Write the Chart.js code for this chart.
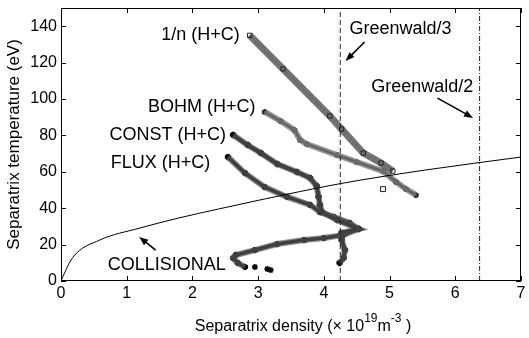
<!DOCTYPE html>
<html>
<head>
<meta charset="utf-8">
<script src="https://cdn.jsdelivr.net/npm/chart.js@4"></script>
<style>
  body { margin: 0; background: #fff; }
</style>
</head>
<body>
<canvas id="tsepChart" width="529" height="338"></canvas>
<script>
const xTicks = [0, 1, 2, 3, 4, 5, 6, 7];
const yTicks = [0, 20, 40, 60, 80, 100, 120, 140];

// 1/n (H+C) scan
const invNDensity = [2.87, 3.38, 4.09, 4.27, 4.60, 4.87, 5.05];
const invNTemp    = [135, 116.5, 90.7, 83.5, 70.3, 64.8, 60.4];
const invNStrayDensity = [4.90];
const invNStrayTemp    = [50.5];

// BOHM (H+C) scan
const bohmDensity = [3.10, 3.34, 3.55, 3.64, 3.74, 4.20, 4.50, 4.90, 5.10, 5.25, 5.40];
const bohmTemp    = [92.9, 87.9, 83.0, 77.5, 75.3, 69.2, 65.4, 60.4, 54.4, 50.5, 47.3];

// CONST (H+C) scan
const constDensity = [2.62, 2.84, 3.04, 3.29, 3.59, 3.79, 3.89, 3.92, 3.94, 3.97, 4.20, 4.53, 4.27, 4.27, 4.32, 4.30, 4.24];
const constTemp    = [80.2, 74.7, 70.3, 64.3, 59.9, 56.6, 52.2, 46.2, 41.8, 37.9, 33.5, 28.6, 26.4, 22.5, 17.0, 12.6, 9.9];

// FLUX (H+C) scan
const fluxDensity = [2.54, 2.80, 3.10, 3.44, 3.79, 3.94, 4.15, 4.39, 4.53, 4.30, 4.00, 3.70, 3.29, 2.95, 2.66, 2.62, 2.69, 2.80];
const fluxTemp    = [68.1, 59.3, 51.6, 46.2, 41.8, 37.9, 35.2, 31.9, 28.6, 25.3, 23.6, 22.5, 20.3, 17.0, 14.3, 12.6, 9.9, 7.7];
const fluxTailDensity = [2.95, 3.14, 3.19];
const fluxTailTemp    = [7.7, 6.6, 6.0];

// two-point (collisional) model curve
const collDensity = [0, 0.03, 0.18, 0.59, 1.19, 1.79, 2.39, 3.0, 4.25, 5.55, 7.0];
const collTemp    = [0, 2.5, 13.0, 22.5, 29.0, 34.6, 39.5, 44.3, 53.5, 61.0, 68.1];

// Greenwald density fractions
const greenwald3 = 4.25;
const greenwald2 = 6.37;

const yMax = 150;
const FONT = '"Liberation Sans", Arial, Helvetica, sans-serif';

function pts(xs, ys) {
    return xs.map((x, i) => ({ x: x, y: ys[i] }));
}

const labels = [
    { text: '1/n (H+C)',   x: 2.72, y: 135.2, align: 'right' },
    { text: 'BOHM (H+C)',  x: 2.96, y: 95.6,  align: 'right' },
    { text: 'CONST (H+C)', x: 2.51, y: 80.2,  align: 'right' },
    { text: 'FLUX (H+C)',  x: 2.27, y: 64.8,  align: 'right' },
    { text: 'COLLISIONAL', x: 0.71, y: 8.8,   align: 'left' },
    { text: 'Greenwald/3', x: 4.39, y: 138.5, align: 'left' },
    { text: 'Greenwald/2', x: 4.72, y: 106.6, align: 'left' }
];

const arrows = [
    { from: [4.62, 131.3], to: [4.33, 120.9] },
    { from: [5.73, 100.5], to: [6.27, 89.6] },
    { from: [1.44, 17.0],  to: [1.19, 24.2] }
];

function drawArrow(ctx, x1, y1, x2, y2) {
    const ang = Math.atan2(y2 - y1, x2 - x1);
    const len = 9, half = 3.5;
    ctx.beginPath();
    ctx.moveTo(x1, y1);
    ctx.lineTo(x2 - Math.cos(ang) * len * 0.8, y2 - Math.sin(ang) * len * 0.8);
    ctx.lineWidth = 1.6;
    ctx.stroke();
    ctx.beginPath();
    ctx.moveTo(x2, y2);
    ctx.lineTo(x2 - Math.cos(ang) * len - Math.sin(ang) * half, y2 - Math.sin(ang) * len + Math.cos(ang) * half);
    ctx.lineTo(x2 - Math.cos(ang) * len + Math.sin(ang) * half, y2 - Math.sin(ang) * len - Math.cos(ang) * half);
    ctx.closePath();
    ctx.fill();
}

// box frame, inward ticks, text labels, arrows and the x title with superscripts
const decorations = {
    id: 'decorations',
    afterDatasetsDraw(chart) {
        const { ctx, chartArea: a, scales: { x, y } } = chart;
        ctx.save();
        ctx.strokeStyle = '#000';
        ctx.fillStyle = '#000';
        ctx.lineWidth = 1;
        ctx.strokeRect(a.left + 0.5, a.top + 0.5, a.right - a.left - 1, a.bottom - a.top - 1);

        ctx.beginPath();
        xTicks.forEach(v => {
            const px = Math.round(x.getPixelForValue(v)) + 0.5;
            ctx.moveTo(px, a.bottom); ctx.lineTo(px, a.bottom - 5);
            ctx.moveTo(px, a.top); ctx.lineTo(px, a.top + 5);
        });
        yTicks.forEach(v => {
            const py = Math.round(y.getPixelForValue(v)) + 0.5;
            ctx.moveTo(a.left, py); ctx.lineTo(a.left + 5, py);
            ctx.moveTo(a.right, py); ctx.lineTo(a.right - 5, py);
        });
        ctx.stroke();

        ctx.font = '18px ' + FONT;
        ctx.textBaseline = 'middle';
        labels.forEach(l => {
            ctx.textAlign = l.align;
            ctx.fillText(l.text, x.getPixelForValue(l.x), y.getPixelForValue(l.y));
        });

        arrows.forEach(ar => {
            drawArrow(ctx,
                x.getPixelForValue(ar.from[0]), y.getPixelForValue(ar.from[1]),
                x.getPixelForValue(ar.to[0]), y.getPixelForValue(ar.to[1]));
        });

        // x axis title: Separatrix density (× 10^19 m^-3 )
        const parts = [
            { t: 'Separatrix density (\u00d7 10', size: 16, rise: 0 },
            { t: '19', size: 12, rise: 9 },
            { t: 'm', size: 16, rise: 0 },
            { t: '-3', size: 12, rise: 9 },
            { t: ' )', size: 16, rise: 0 }
        ];
        ctx.textAlign = 'left';
        ctx.textBaseline = 'alphabetic';
        let total = 0;
        parts.forEach(p => { ctx.font = p.size + 'px ' + FONT; p.w = ctx.measureText(p.t).width; total += p.w; });
        let cx = 303 - total / 2;
        const base = 331;
        parts.forEach(p => {
            ctx.font = p.size + 'px ' + FONT;
            ctx.fillText(p.t, cx, base - p.rise);
            cx += p.w;
        });
        ctx.restore();
    }
};

function createTsepChart() {
    const ctx = document.getElementById('tsepChart').getContext('2d');

    const datasets = [
        { data: pts(collDensity, collTemp), borderColor: '#000', borderWidth: 1,
          cubicInterpolationMode: 'monotone', pointRadius: 0 },
        { data: [{ x: greenwald3, y: 0 }, { x: greenwald3, y: yMax }], borderColor: '#222',
          borderWidth: 1, borderDash: [5, 3], pointRadius: 0 },
        { data: [{ x: greenwald2, y: 0 }, { x: greenwald2, y: yMax }], borderColor: '#222',
          borderWidth: 1, borderDash: [5, 2, 1, 2], pointRadius: 0 },
        // 1/n: band of open squares
        { data: pts(invNDensity, invNTemp), borderColor: 'rgba(100,100,100,0.9)', borderWidth: 7,
          pointStyle: 'rect', pointRadius: 3, pointBorderColor: '#222', pointBorderWidth: 1,
          pointBackgroundColor: 'rgba(0,0,0,0)' },
        { data: pts(invNDensity, invNTemp), borderColor: 'rgba(30,30,30,0.6)', borderWidth: 1.5,
          borderDash: [2, 2], pointRadius: 0 },
        { data: pts(invNStrayDensity, invNStrayTemp), showLine: false, pointStyle: 'rect',
          pointRadius: 3.5, pointBorderColor: '#222', pointBorderWidth: 1, pointBackgroundColor: 'rgba(0,0,0,0)' },
        // BOHM: starred track
        { data: pts(bohmDensity, bohmTemp), borderColor: 'rgba(120,120,120,0.8)', borderWidth: 6, pointRadius: 0 },
        { data: pts(bohmDensity, bohmTemp), borderColor: '#111', borderWidth: 2.5,
          pointStyle: 'star', pointRadius: 3, pointBorderColor: '#333' },
        // CONST
        { data: pts(constDensity, constTemp), borderColor: 'rgba(90,90,90,0.7)', borderWidth: 6, pointRadius: 0 },
        { data: pts(constDensity, constTemp), borderColor: '#000', borderWidth: 4,
          pointStyle: 'star', pointRadius: 3, pointBorderColor: '#000' },
        // FLUX
        { data: pts(fluxDensity, fluxTemp), borderColor: 'rgba(90,90,90,0.7)', borderWidth: 6, pointRadius: 0 },
        { data: pts(fluxDensity, fluxTemp), borderColor: '#000', borderWidth: 3.5,
          pointStyle: 'star', pointRadius: 3, pointBorderColor: '#000' },
        { data: pts(fluxTailDensity, fluxTailTemp), showLine: false, pointStyle: 'star',
          pointRadius: 3, pointBorderColor: '#000', pointBorderWidth: 1.5 }
    ];
    datasets.forEach(d => { if (d.showLine === undefined) d.showLine = true; d.fill = false; });

    new Chart(ctx, {
        type: 'scatter',
        data: { datasets: datasets },
        options: {
            responsive: false,
            animation: false,
            events: [],
            layout: { padding: { top: 8, right: 3, left: 0, bottom: 0 } },
            plugins: { legend: { display: false }, tooltip: { enabled: false } },
            scales: {
                x: {
                    type: 'linear', min: 0, max: 7,
                    afterBuildTicks: s => { s.ticks = xTicks.map(v => ({ value: v })); },
                    afterFit: s => { s.height = 57; s.paddingLeft = 0; s.paddingRight = 0; },
                    grid: { display: false, drawTicks: false },
                    border: { display: false },
                    ticks: { color: '#000', padding: 3, font: { size: 16, family: FONT } }
                },
                y: {
                    type: 'linear', min: 0, max: yMax,
                    afterBuildTicks: s => { s.ticks = yTicks.map(v => ({ value: v })); },
                    afterFit: s => { s.width = 61; s.paddingTop = 0; s.paddingBottom = 0; },
                    grid: { display: false, drawTicks: false },
                    border: { display: false },
                    ticks: { color: '#000', padding: 4, font: { size: 16, family: FONT } },
                    title: { display: true, text: 'Separatrix temperature (eV)', color: '#000',
                             padding: { top: 4, bottom: 0 }, font: { size: 17, family: FONT } }
                }
            }
        },
        plugins: [decorations]
    });
}

document.addEventListener('DOMContentLoaded', function() {
    createTsepChart();
});
</script>
</body>
</html>
